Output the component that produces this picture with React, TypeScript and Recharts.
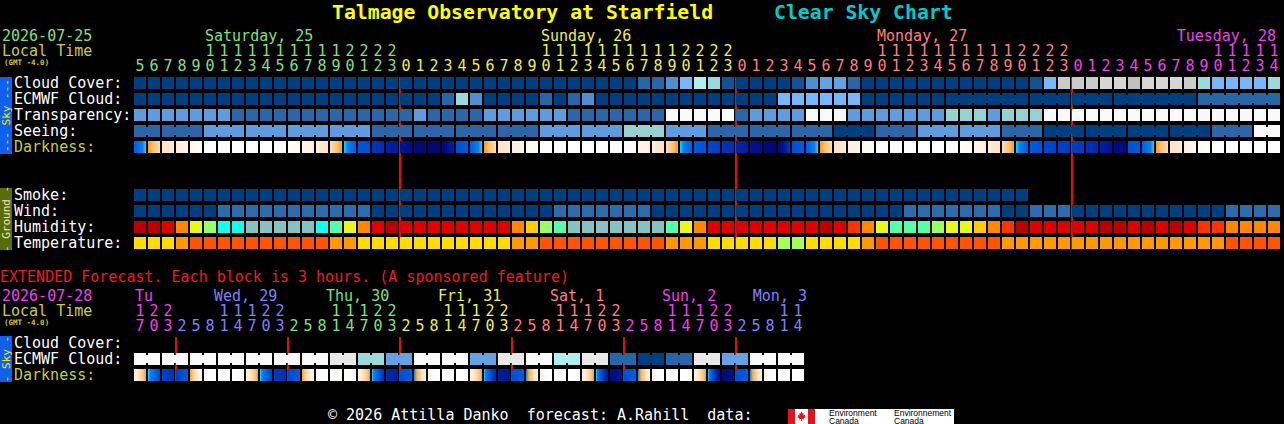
import React from 'react';
import { ScatterChart, Scatter, XAxis, YAxis, ReferenceLine } from 'recharts';

const MONO = "'DejaVu Sans Mono', 'Liberation Mono', monospace";
const FS = 15;
const CHAR = FS * 0.602;
const PITCH = 14;
const BLOCK = 12;
const ROW = 16;
const LABEL_W = 134;
const OLIVE = '#CCCC33';

// ---------- hourly forecast ----------
const topHours = [
  5, 6, 7, 8, 9, 10, 11, 12, 13, 14, 15, 16, 17, 18, 19, 20, 21, 22, 23,
  0, 1, 2, 3, 4, 5, 6, 7, 8, 9, 10, 11, 12, 13, 14, 15, 16, 17, 18, 19, 20, 21, 22, 23,
  0, 1, 2, 3, 4, 5, 6, 7, 8, 9, 10, 11, 12, 13, 14, 15, 16, 17, 18, 19, 20, 21, 22, 23,
  0, 1, 2, 3, 4, 5, 6, 7, 8, 9, 10, 11, 12, 13, 14,
];
const topDays = ['Saturday, 25', 'Sunday, 26', 'Monday, 27', 'Tuesday, 28'];

// cloud levels: 0 = clear ... 13 = overcast
const cloudCover = [
  0, 0, 0, 0, 0, 0, 0, 0, 0, 0, 0, 0, 0, 0, 0, 0, 0, 0, 0, 0, 0, 0, 0, 0, 0, 0, 0, 0, 0, 0, 0, 0, 0, 0, 0, 0,
  2, 2, 4, 6, 8, 7, 1,
  0, 0, 0, 0, 1, 4, 5, 5, 2,
  0, 0, 0, 0, 0, 0, 0, 0, 0, 0, 0, 0,
  1, 6, 10, 10, 10, 11, 11, 9, 11, 11, 11, 10, 7, 6, 6, 6, 6, 7,
];
const ecmwfHourly = [
  0, 0, 0, 0, 0, 0, 0, 0, 0, 0, 0, 0, 0, 0, 0, 0, 0, 0, 0, 0, 0, 0,
  2, 7, 4, 0, 0, 0, 0, 2, 0, 2, 4,
  0, 0, 0, 0, 0, 0, 0, 0, 0, 0, 0, 0, 0,
  6, 6, 6, 6, 6, 6,
  0, 0, 0, 0, 0, 0,
];
const ecmwfJoinedLevels = [0, 0, 0, 0, 2];
const ecmwfJoinedHours = [6, 3, 3, 6, 6];

// transparency / seeing: 0 best ... 4 bad, 5 too cloudy
const transparency = [
  2, 2, 2, 2, 2, 2, 2, 1, 1, 1, 1, 1, 1, 1, 1, 1, 1, 1, 1, 1, 2, 1, 1, 1, 1,
  2, 2, 2, 2, 2, 2, 1, 1, 1, 1, 1, 1, 1, 5, 5, 5, 5, 5, 1, 2, 2, 2, 2, 5, 5, 5,
  2, 2, 2, 2, 2, 2, 2, 3, 3, 3, 2, 3, 3, 3,
  5, 5, 5, 5, 5, 5, 5, 5, 5, 5, 5, 5, 5, 5, 5, 5, 5,
];
const seeing = [1, 1, 2, 2, 2, 2, 1, 1, 1, 1, 2, 2, 3, 2, 1, 1, 1, 0, 1, 2, 2, 1, 0, 0, 0, 0, 1, 5];
const seeingHours = [2, 3, 3, 3, 3, 3, 3, 3, 3, 3, 3, 3, 3, 3, 3, 3, 3, 3, 3, 3, 3, 3, 3, 3, 3, 3, 3, 2];

// darkness at start / end of each hour: 0 = daylight ... 10 = darkest
const darkness: [number, number][] = [
  [5.2, 3.5], [3.5, 2.2], [2.0, 1.4], [1.3, 0.9], [0.8, 0.3],
  [0, 0], [0, 0], [0, 0], [0, 0], [0, 0], [0, 0],
  [0.2, 0.6], [0.8, 1.2], [1.3, 2.0], [2.2, 3.5], [3.5, 5.2], [5.4, 5.8], [6.8, 7.1], [7.8, 8.1],
  [8.6, 9.0], [9.3, 9.5], [9.6, 9.6], [9.6, 7.8], [5.8, 5.3], [5.2, 3.5], [3.5, 2.2], [2.0, 1.4], [1.2, 0.9], [0.6, 0.2],
  [0, 0], [0, 0], [0, 0], [0, 0], [0, 0], [0, 0],
  [0.2, 0.6], [0.8, 1.2], [1.3, 2.0], [2.2, 3.5], [3.5, 5.2], [5.3, 5.6], [6.1, 6.4], [6.8, 7.2],
  [7.6, 8.0], [8.6, 9.0], [9.3, 9.6], [9.6, 6.8], [5.8, 5.3], [5.2, 3.5], [3.5, 2.2], [2.0, 1.4], [1.2, 0.9], [0.6, 0.2],
  [0, 0], [0, 0], [0, 0], [0, 0], [0, 0], [0, 0],
  [0.2, 0.6], [0.8, 1.2], [1.3, 2.0], [2.2, 3.5], [3.5, 5.2], [5.3, 5.6], [6.0, 6.3], [6.3, 6.5],
  [6.4, 6.6], [6.9, 7.3], [7.8, 8.6], [9.0, 9.3], [5.6, 5.4], [5.2, 3.5], [3.5, 2.2], [2.0, 1.4], [1.2, 0.7], [0.5, 0.2],
  [0, 0], [0, 0], [0, 0], [0, 0], [0, 0],
];

// smoke (ug/m^3), only 64 hours available
const smoke = [
  0, 0, 0, 0, 0, 0, 0, 0, 0, 0, 0, 0, 0, 0, 0, 0,
  0, 0, 0, 0, 0, 0, 0, 0, 0, 0, 0, 0, 0, 0, 0, 0,
  0, 0, 0, 0, 0, 0, 0, 0, 0, 0, 0, 0, 0, 0, 0, 0,
  0, 0, 0, 0, 0, 0, 0, 0, 0, 0, 0, 0, 0, 0, 0, 0,
];
// wind mph
const wind = [
  3, 3, 4, 3, 3, 4, 8, 9, 9, 10, 9, 8, 8, 9, 8, 7, 7,
  4, 3, 3, 3, 2, 2, 3, 3, 4, 4, 3, 4, 5, 7, 8, 9, 9, 8, 8, 7,
  4, 4, 3, 3, 3, 3, 2, 2, 3, 3, 4, 4, 3, 3, 4, 4, 5, 5, 7, 8, 8, 9, 9, 8, 7,
  5, 5, 7, 7, 8, 5, 4, 4, 3, 3, 3, 3, 4, 4, 5, 5, 7, 8, 8, 7,
];
// relative humidity %
const humidity = [
  93, 92, 89, 78, 68, 63, 54, 51, 48, 47, 46, 46, 48, 51, 57, 66, 76, 86, 91, 89,
  88, 88, 87, 87, 86, 86, 85, 78, 72, 63, 56, 49, 48, 47, 46, 46, 47, 49, 56, 66,
  76, 85, 86, 87, 88, 88, 89, 89, 89, 90, 88, 83, 77, 67, 59, 57, 58, 61, 66, 69,
  73, 79, 84, 90, 89, 88, 88, 89, 89, 91, 92, 89, 90, 89, 90, 88, 84, 82, 79, 77,
  76, 76,
];
// temperature F
const temperature = [
  66, 66, 67, 71, 76, 78, 79, 80, 81, 82, 82, 81, 80, 78, 74, 72,
  69, 68, 67, 67, 66, 66, 65, 65, 65, 65, 66, 71, 73,
  76, 78, 80, 81, 82, 82, 81, 79, 77, 74, 73, 71,
  69, 68, 67, 66, 65, 63, 63, 64, 66, 68, 69, 72,
  75, 77, 79, 80, 81, 81, 80, 78, 76,
  74, 73, 72, 72, 71, 71, 71, 70, 70, 71, 72, 73, 73, 74, 74, 74,
  75, 77, 78, 79,
];

// ---------- extended forecast (3 hour blocks) ----------
const extHours = [
  17, 20, 23,
  2, 5, 8, 11, 14, 17, 20, 23,
  2, 5, 8, 11, 14, 17, 20, 23,
  2, 5, 8, 11, 14, 17, 20, 23,
  2, 5, 8, 11, 14, 17, 20, 23,
  2, 5, 8, 11, 14, 17, 20, 23,
  2, 5, 8, 11, 14,
];
const extDays = ['Tu', 'Wed, 29', 'Thu, 30', 'Fri, 31', 'Sat, 1', 'Sun, 2', 'Mon, 3'];
const extEcmwf = [13, 13, 13, 13, 13, 13, 13, 12, 7, 5, 13, 13, 5, 12, 13, 8, 12, 2, 0, 2, 12, 5, 13, 13];
const extEcmwfBlocks = 2;
const extDarkness: [number, number][] = [
  [0.8, 3.5], [3.5, 6.0], [6.0, 7.0], [6.5, 5.2], [3.5, 0.3], [0.1, 0], [0, 0], [0, 0.5],
  [0.8, 3.5], [3.5, 6.2], [6.4, 7.2], [6.0, 5.2], [3.5, 0.3], [0, 0], [0, 0], [0, 0.5],
  [0.8, 3.5], [3.5, 7.0], [7.2, 8.0], [5.8, 5.2], [4.0, 1.0], [0.8, 0.1], [0, 0], [0, 0.3],
  [0.8, 3.5], [3.5, 7.5], [8.0, 8.5], [5.8, 5.2], [4.0, 1.0], [0.8, 0.1], [0, 0], [0, 0.3],
  [0.8, 3.5], [3.5, 8.5], [9.2, 8.6], [5.8, 5.2], [4.0, 1.0], [0.8, 0.1], [0, 0], [0, 0.3],
  [0.8, 3.5], [3.5, 9.0], [9.4, 8.8], [5.8, 5.2], [4.0, 1.0], [0.8, 0.1], [0, 0], [0, 0],
];

// ---------- colour scales ----------
const CLOUD_PALETTE = [
  '#003F7F', '#135393', '#2767A7', '#3B7BBB', '#4F8FCF', '#63A3E3', '#77B7F7',
  '#9ADADA', '#AEEEEE', '#C0C0C0', '#CBCBCB', '#D6D6D6', '#E8E8E8', '#FAFAFA',
];
const SKY_PALETTE = ['#003F7F', '#2C66A6', '#5E9CDE', '#96D2D2', '#C8C8C8', '#F9F9F9'];
const HUMIDITY_BINS: [number, string][] = [
  [50, '#85C2C2'], [55, '#11FFEE'], [60, '#55FFAA'], [65, '#99FF66'], [70, '#E8F81A'],
  [75, '#FFCC00'], [80, '#FF8800'], [85, '#FF3300'], [90, '#E00000'], [200, '#BB0000'],
];
const TEMP_BINS: [number, string][] = [[64, '#AAFF55'], [70, '#FFDD00'], [75, '#FF9900'], [200, '#FF5500']];
const WIND_BINS: [number, string][] = [[6, '#003F7F'], [12, '#2C6CAA'], [200, '#63A3E3']];
const DARK_SCALE: [number, string][] = [
  [0, '#FFFFFF'], [0.5, '#FFFAF4'], [1, '#FFF2E4'], [2, '#FFE2C2'], [3, '#FFC070'], [3.5, '#FF9A10'],
  [3.5, '#10D8FF'], [4, '#0A80F0'], [5, '#0062E4'], [6, '#0048CC'], [7, '#0030B4'], [8, '#001CA0'],
  [9, '#000E84'], [10, '#000560'],
];
const TOP_DAY_COLORS = ['#7FE07F', '#F0F040', '#FF7F7F', '#F040F0'];
const EXT_DAY_COLORS = ['#F040F0', '#8080FF', '#7FE07F', '#F0F040', '#FF7F7F', '#F040F0', '#8080FF'];

const binColor = (bins: [number, string][]) => (v: number) => (bins.find((b) => v < b[0]) || bins[bins.length - 1])[1];

const mix = (a: string, b: string, t: number) => {
  const pa = [1, 3, 5].map((i) => parseInt(a.slice(i, i + 2), 16));
  const pb = [1, 3, 5].map((i) => parseInt(b.slice(i, i + 2), 16));
  return '#' + pa.map((v, k) => Math.round(v + (pb[k] - v) * t).toString(16).padStart(2, '0')).join('');
};

const darkColorAt = (v: number) => {
  for (let i = 0; i < DARK_SCALE.length - 1; i++) {
    const [v0, c0] = DARK_SCALE[i];
    const [v1, c1] = DARK_SCALE[i + 1];
    if (v1 > v0 && v >= v0 && v <= v1) return mix(c0, c1, (v - v0) / (v1 - v0));
  }
  return v <= 0 ? DARK_SCALE[0][1] : DARK_SCALE[DARK_SCALE.length - 1][1];
};

const darkStops = (a: number, b: number): [number, string][] => {
  if (a === b) return [[0, darkColorAt(a)], [1, darkColorAt(a)]];
  const eps = (b - a) * 0.001;
  const out: [number, string][] = [[0, darkColorAt(a + eps)]];
  const lo = Math.min(a, b);
  const hi = Math.max(a, b);
  const seq = a < b ? DARK_SCALE : [...DARK_SCALE].reverse();
  seq.forEach(([v, c]) => {
    if (v > lo && v < hi) out.push([(v - a) / (b - a), c]);
  });
  out.push([1, darkColorAt(b - eps)]);
  return out;
};

// ---------- cell builders ----------
type Cell = { x: number; y: number; fill?: string; span?: number; range?: [number, number]; gid?: string };

const hourlyCells = (vals: number[], row: number, color: (v: number) => string, start = 0): Cell[] =>
  vals.map((v, i) => ({ x: start + i, y: row, fill: color(v), span: 1 }));

const runCells = (vals: number[], spans: number[], row: number, color: (v: number) => string, start = 0): Cell[] => {
  let c = start;
  return vals.map((v, i) => {
    const cell = { x: c, y: row, fill: color(v), span: spans[i] };
    c += spans[i];
    return cell;
  });
};

const darkCells = (vals: [number, number][], row: number, prefix: string): Cell[] =>
  vals.map((r, i) => ({ x: i, y: row, range: r, gid: `${prefix}${i}` }));

const BlockShape = (props: any) => {
  const { cx, cy } = props;
  const p = props.payload ?? props;
  if (!Number.isFinite(cx) || !Number.isFinite(cy)) return <g />;
  const span = p.span || 1;
  const parts: React.ReactElement[] = [];
  for (let k = 0; k < span; k++) {
    parts.push(<rect key={`b${k}`} x={cx + k * PITCH} y={cy} width={BLOCK} height={BLOCK} fill={p.fill} />);
    if (k < span - 1) {
      parts.push(
        <rect key={`j${k}`} x={cx + k * PITCH + BLOCK} y={cy + 2} width={PITCH - BLOCK} height={BLOCK - 4} fill={p.fill} />
      );
    }
  }
  return <g>{parts}</g>;
};

const DarkShape = (props: any) => {
  const { cx, cy } = props;
  const p = props.payload ?? props;
  if (!Number.isFinite(cx) || !Number.isFinite(cy)) return <g />;
  const stops = darkStops(p.range[0], p.range[1]);
  return (
    <g>
      <defs>
        <linearGradient id={p.gid} x1="0" y1="0" x2="1" y2="0">
          {stops.map((s, k) => (
            <stop key={k} offset={s[0]} stopColor={s[1]} />
          ))}
        </linearGradient>
      </defs>
      <rect x={cx} y={cy} width={BLOCK} height={BLOCK} fill={`url(#${p.gid})`} />
    </g>
  );
};

type RowLabel = { row: number; text: string; color: string };
type Series = { cells: Cell[]; shape: (p: any) => React.ReactElement };

function GridSection(props: {
  hours: number[];
  days: string[];
  dayColors: string[];
  labelHour: number;
  labelShift: number;
  labelRight: number;
  rowLabels: RowLabel[];
  rowCount: number;
  axisH: number;
  padTop: number;
  padBottom: number;
  series: Series[];
}) {
  const { hours, days, dayColors, labelHour, labelShift, labelRight, rowLabels, rowCount, axisH, padTop, padBottom, series } =
    props;
  const cols = hours.length;
  const dayOf: number[] = [];
  hours.forEach((h, i) => dayOf.push(i === 0 ? 0 : dayOf[i - 1] + (h < hours[i - 1] ? 1 : 0)));
  const idx = hours.map((_, i) => i);
  const labelCols = days.map((_, d) => {
    const own = idx.filter((i) => dayOf[i] === d);
    const hit = own.find((i) => hours[i] === labelHour);
    return hit ?? own[0];
  });
  const midnights = idx.filter((i) => i > 0 && dayOf[i] !== dayOf[i - 1]);
  const plotH = (rowCount - 1) * ROW + BLOCK;
  const width = LABEL_W + cols * PITCH;

  const headerTick = (p: any) => {
    const i = p.payload.value as number;
    const h = hours[i];
    const d = dayOf[i];
    const color = dayColors[d];
    const cx = p.x + BLOCK / 2;
    let label: React.ReactElement | null = null;
    if (labelCols[d] === i) {
      const w = days[d].length * CHAR;
      const lx = Math.min(p.x + (h === labelHour ? labelShift : 1), labelRight - w);
      label = (
        <text x={lx} y={p.y - 36} fill={color} fontSize={FS} fontFamily={MONO}>
          {days[d]}
        </text>
      );
    }
    return (
      <g>
        {label}
        {h >= 10 && (
          <text x={cx} y={p.y - 21} textAnchor="middle" fill={color} fontSize={FS} fontFamily={MONO}>
            {Math.floor(h / 10)}
          </text>
        )}
        <text x={cx} y={p.y - 6} textAnchor="middle" fill={color} fontSize={FS} fontFamily={MONO}>
          {h % 10}
        </text>
      </g>
    );
  };

  const rowTick = (p: any) => {
    const lab = rowLabels.find((r) => r.row === p.payload.value);
    if (!lab) return <g />;
    return (
      <text x={14} y={p.y + 11} fill={lab.color} fontSize={FS} fontFamily={MONO}>
        {lab.text}
      </text>
    );
  };

  return (
    <ScatterChart
      width={width}
      height={padTop + axisH + plotH + padBottom}
      margin={{ top: padTop, right: 0, bottom: padBottom, left: 0 }}
    >
      <XAxis
        type="number"
        dataKey="x"
        orientation="top"
        domain={[0, cols]}
        ticks={idx}
        interval={0}
        height={axisH}
        axisLine={false}
        tickLine={false}
        tickSize={0}
        tickMargin={0}
        tick={headerTick}
      />
      <YAxis
        type="number"
        dataKey="y"
        domain={[0, plotH / ROW]}
        reversed
        width={LABEL_W}
        ticks={rowLabels.map((r) => r.row)}
        interval={0}
        axisLine={false}
        tickLine={false}
        tickSize={0}
        tickMargin={0}
        tick={rowTick}
      />
      {series.map((s, k) => (
        <Scatter key={k} data={s.cells} shape={s.shape} isAnimationActive={false} />
      ))}
      {midnights.map((m) => (
        <ReferenceLine key={m} x={m} stroke="#FF0000" strokeWidth={2} />
      ))}
    </ScatterChart>
  );
}

const SideBar = ({ y, h, fill, color, text }: { y: number; h: number; fill: string; color: string; text: string }) => (
  <g>
    <rect x={0} y={y} width={12} height={h} fill={fill} />
    <text
      transform={`translate(6.5 ${y + h / 2}) rotate(-90)`}
      textAnchor="middle"
      dominantBaseline="central"
      fill={color}
      fontSize={11}
      fontFamily={MONO}
      style={{ whiteSpace: 'pre' }}
    >
      {text}
    </text>
  </g>
);

const leaf = [
  [0, -5], [1, -3], [2.2, -3.6], [1.8, -1], [3.6, -2], [3.2, 0], [4.4, 0.4], [2, 2], [2.4, 3], [0.4, 2.6],
  [0.4, 4.6], [-0.4, 4.6], [-0.4, 2.6], [-2.4, 3], [-2, 2], [-4.4, 0.4], [-3.2, 0], [-3.6, -2], [-1.8, -1],
  [-2.2, -3.6], [-1, -3],
];

export default function App() {
  const cloud = (v: number) => CLOUD_PALETTE[v];
  const sky = (v: number) => SKY_PALETTE[v];

  const topSeries: Series[] = [
    { cells: hourlyCells(cloudCover, 0, cloud), shape: BlockShape },
    {
      cells: [
        ...hourlyCells(ecmwfHourly, 1, cloud),
        ...runCells(ecmwfJoinedLevels, ecmwfJoinedHours, 1, cloud, ecmwfHourly.length),
      ],
      shape: BlockShape,
    },
    { cells: hourlyCells(transparency, 2, sky), shape: BlockShape },
    { cells: runCells(seeing, seeingHours, 3, sky), shape: BlockShape },
    { cells: darkCells(darkness, 4, 'dt'), shape: DarkShape },
    { cells: hourlyCells(smoke, 7, () => '#003F7F'), shape: BlockShape },
    { cells: hourlyCells(wind, 8, binColor(WIND_BINS)), shape: BlockShape },
    { cells: hourlyCells(humidity, 9, binColor(HUMIDITY_BINS)), shape: BlockShape },
    { cells: hourlyCells(temperature, 10, binColor(TEMP_BINS)), shape: BlockShape },
  ];
  const extSeries: Series[] = [
    { cells: runCells(extEcmwf, extEcmwf.map(() => extEcmwfBlocks), 1, cloud), shape: BlockShape },
    { cells: darkCells(extDarkness, 2, 'de'), shape: DarkShape },
  ];

  const white = '#FFFFFF';
  const topRows: RowLabel[] = [
    { row: 0, text: 'Cloud Cover:', color: white },
    { row: 1, text: 'ECMWF Cloud:', color: white },
    { row: 2, text: 'Transparency:', color: white },
    { row: 3, text: 'Seeing:', color: white },
    { row: 4, text: 'Darkness:', color: OLIVE },
    { row: 7, text: 'Smoke:', color: white },
    { row: 8, text: 'Wind:', color: white },
    { row: 9, text: 'Humidity:', color: white },
    { row: 10, text: 'Temperature:', color: white },
  ];
  const extRows: RowLabel[] = [
    { row: 0, text: 'Cloud Cover:', color: white },
    { row: 1, text: 'ECMWF Cloud:', color: white },
    { row: 2, text: 'Darkness:', color: OLIVE },
  ];

  return (
    <div
      style={{
        position: 'absolute',
        left: 0,
        top: 0,
        width: 1284,
        height: 424,
        background: '#000000',
        overflow: 'hidden',
        fontFamily: MONO,
      }}
    >
      <svg width={1284} height={424} style={{ position: 'absolute', left: 0, top: 0 }} fontFamily={MONO}>
        <text x={332} y={19} fontSize={19.8} fontWeight="bold" fill="#FFFF00">
          Talmage Observatory at Starfield
        </text>
        <text x={774} y={19} fontSize={19.8} fontWeight="bold" fill="#00CCCC">
          Clear Sky Chart
        </text>
        <text x={2} y={41} fontSize={FS} fill={TOP_DAY_COLORS[0]}>2026-07-25</text>
        <text x={2} y={56} fontSize={FS} fill={OLIVE}>Local Time</text>
        <text x={4} y={65} fontSize={7.5} fontWeight="bold" fill={OLIVE}>(GMT -4.0)</text>
        <SideBar y={77} h={77} fill="#1060F0" color="#EEEE00" text="--- Sky ---" />
        <SideBar y={188} h={62} fill="#5A6B0B" color="#E6E6C0" text="- Ground -" />

        <text x={0} y={282} fontSize={FS} fill="#EE1C1C" style={{ whiteSpace: 'pre' }}>
          EXTENDED Forecast. Each block is 3 hours. (A sponsored feature)
        </text>
        <text x={2} y={301} fontSize={FS} fill={EXT_DAY_COLORS[0]}>2026-07-28</text>
        <text x={2} y={316} fontSize={FS} fill={OLIVE}>Local Time</text>
        <text x={4} y={325} fontSize={7.5} fontWeight="bold" fill={OLIVE}>(GMT -4.0)</text>
        <SideBar y={336} h={46} fill="#1060F0" color="#EEEE00" text="- Sky -" />

        <text x={328} y={420} fontSize={FS} fill="#FFFFFF" style={{ whiteSpace: 'pre' }}>
          © 2026 Attilla Danko  forecast: A.Rahill  data:
        </text>
        <rect x={788} y={409} width={27} height={15} fill="#FFFFFF" />
        <rect x={788} y={409} width={7} height={15} fill="#E8101A" />
        <rect x={808} y={409} width={7} height={15} fill="#E8101A" />
        <polygon
          points={leaf.map(([px, py]) => `${801.5 + px},${416.5 + py}`).join(' ')}
          fill="#E8101A"
        />
        <rect x={815} y={409} width={139} height={15} fill="#FFFFFF" />
        <g fontFamily="'Liberation Sans', Arial, sans-serif" fontSize={8.5} fill="#000000">
          <text x={829} y={416}>Environment</text>
          <text x={829} y={423.5}>Canada</text>
          <text x={894} y={416}>Environnement</text>
          <text x={894} y={423.5}>Canada</text>
        </g>
      </svg>

      <div style={{ position: 'absolute', left: 0, top: 24 }}>
        <GridSection
          hours={topHours}
          days={topDays}
          dayColors={TOP_DAY_COLORS}
          labelHour={10}
          labelShift={1}
          labelRight={1276}
          rowLabels={topRows}
          rowCount={11}
          axisH={53}
          padTop={0}
          padBottom={6}
          series={topSeries}
        />
      </div>
      <div style={{ position: 'absolute', left: 0, top: 281 }}>
        <GridSection
          hours={extHours}
          days={extDays}
          dayColors={EXT_DAY_COLORS}
          labelHour={8}
          labelShift={1 + CHAR}
          labelRight={807}
          rowLabels={extRows}
          rowCount={3}
          axisH={48}
          padTop={8}
          padBottom={4}
          series={extSeries}
        />
      </div>
    </div>
  );
}
